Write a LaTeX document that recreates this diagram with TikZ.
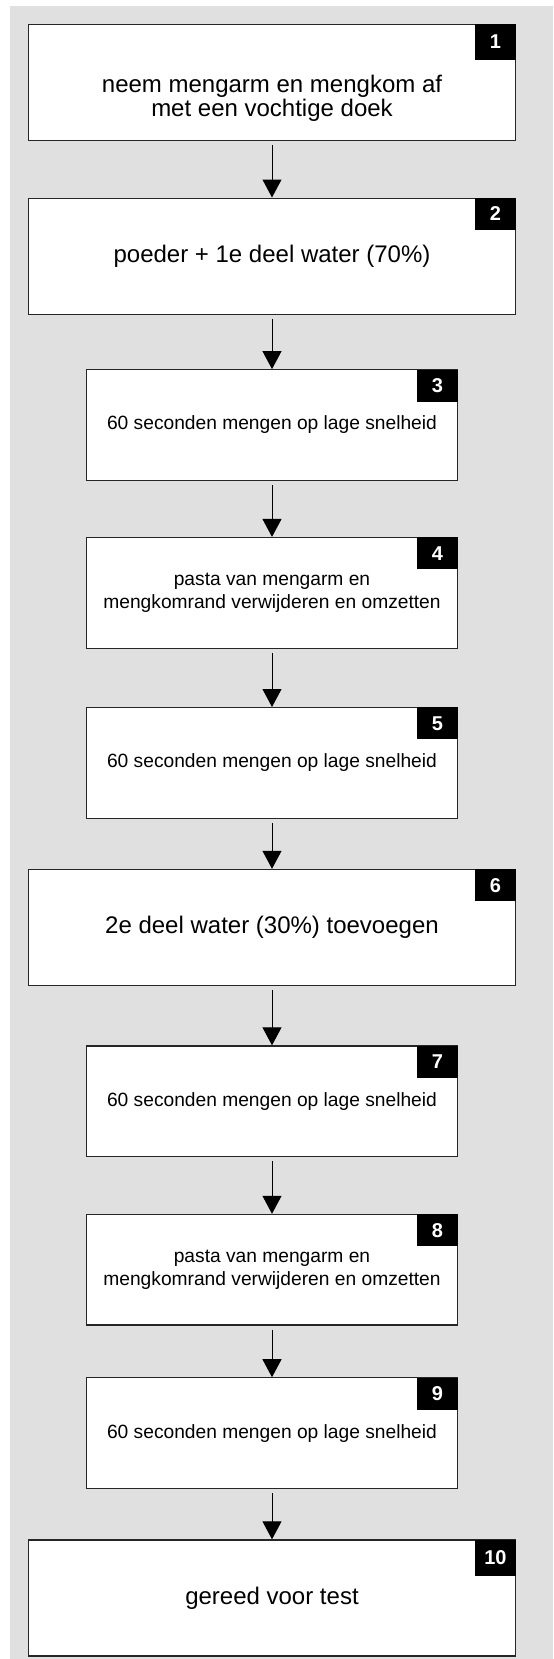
\documentclass[tikz,border=0pt]{standalone}
\usepackage{fontspec}
\setmainfont{Liberation Sans}
\usepackage{xcolor}
\usetikzlibrary{positioning, arrows.meta}
\definecolor{bggray}{RGB}{224,224,224}

\begin{document}
\begin{tikzpicture}[>={Triangle[length=9pt,width=9.5pt]},
       bigtext/.style={align=center, font=\fontsize{12}{11.8}\selectfont},
       wide/.style={draw=black!85, fill=white, line width=0.6pt, inner sep=0pt, minimum width=243.75pt, minimum height=58pt, bigtext},
       narrow/.style={wide, minimum width=185.8pt, minimum height=55.3pt, font=\fontsize{9.6}{11.4}\selectfont},
       badge/.style={fill=black, text=white, anchor=north east, inner sep=0pt, minimum width=20.5pt, minimum height=16pt, font=\fontsize{10}{12}\selectfont\bfseries},
       flow/.style={->, line width=0.5pt, black, shorten <=2pt}]
       % Background
       \useasboundingbox (0,0) rectangle (276.5pt,-829.5pt);
       \fill[bggray] (5pt,-3pt) rectangle (276.5pt,-829.5pt);

       % Steps
       \node[wide] (b1) at (136pt,-41.15pt) {};
       \node[bigtext] (t1) at ([yshift=-8pt]b1.center) {neem mengarm en mengkom af\\met een vochtige doek};
       \node[wide, below=28.3pt of b1] (b2) {poeder + 1e deel water (70\%)};
       \node[narrow, below=27.2pt of b2] (b3) {60 seconden mengen op lage snelheid};
       \node[narrow, below=28pt of b3] (b4) {pasta van mengarm en\\mengkomrand verwijderen en omzetten};
       \node[narrow, below=29.15pt of b4] (b5) {60 seconden mengen op lage snelheid};
       \node[wide, below=25pt of b5] (b6) {2e deel water (30\%) toevoegen};
       \node[narrow, below=29.65pt of b6] (b7) {60 seconden mengen op lage snelheid};
       \node[narrow, below=28.35pt of b7] (b8) {pasta van mengarm en\\mengkomrand verwijderen en omzetten};
       \node[narrow, below=25.8pt of b8] (b9) {60 seconden mengen op lage snelheid};
       \node[wide, below=25.15pt of b9] (b10) {gereed voor test};

       % Step numbers
       \node[badge, minimum height=18pt] (n1) at (b1.north east) {1};
       \foreach \i in {2,...,9}
           \node[badge] (n\i) at (b\i.north east) {\i};
       \node[badge, minimum height=18pt] (n10) at (b10.north east) {10};

       % Arrows
       \draw[flow] (b1) -- (b2);
       \draw[flow] (b2) -- (b3);
       \draw[flow] (b3) -- (b4);
       \draw[flow] (b4) -- (b5);
       \draw[flow] (b5) -- (b6);
       \draw[flow] (b6) -- (b7);
       \draw[flow] (b7) -- (b8);
       \draw[flow] (b8) -- (b9);
       \draw[flow] (b9) -- (b10);
\end{tikzpicture}
\end{document}
